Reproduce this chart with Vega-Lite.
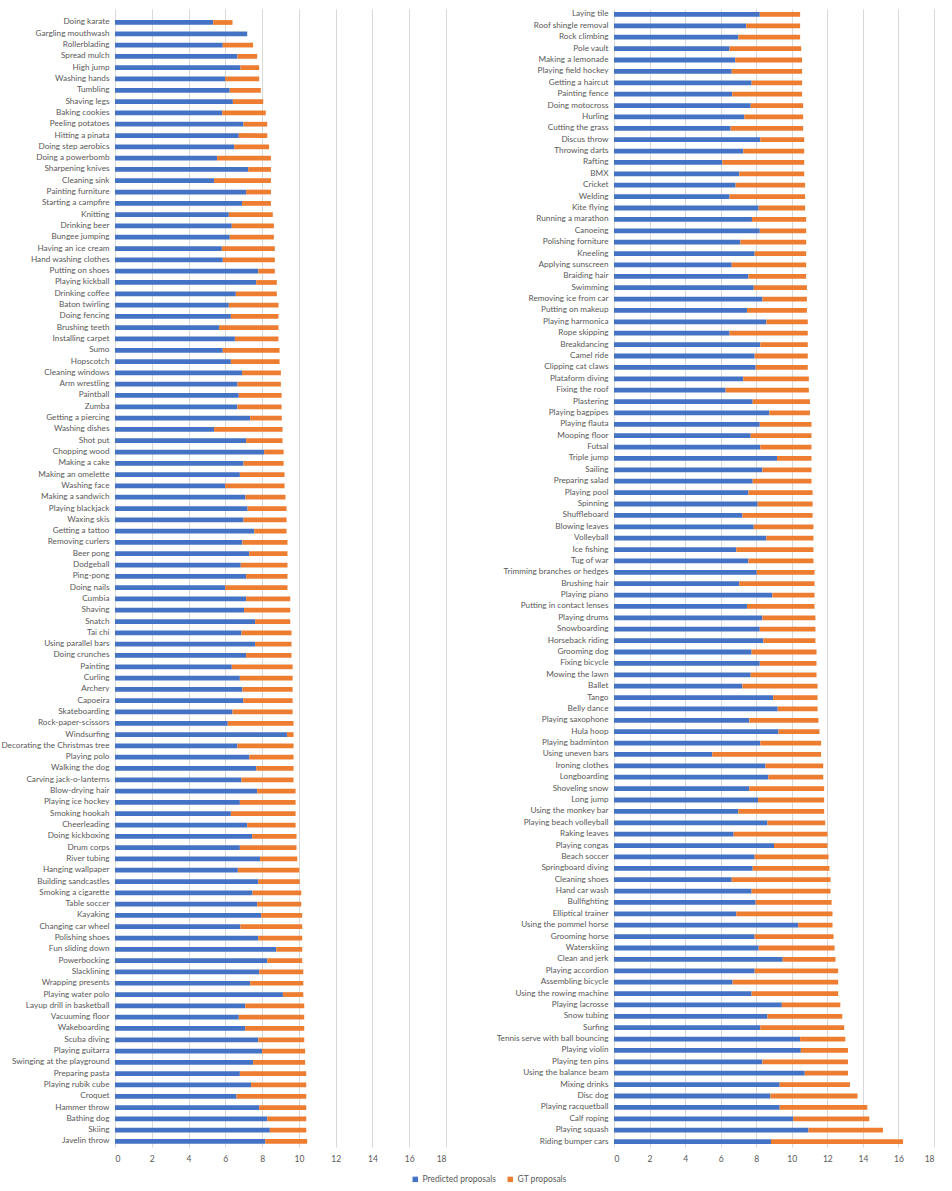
{
  "$schema": "https://vega.github.io/schema/vega-lite/v6.json",
  "padding": {"left": 0, "top": 8, "right": 5, "bottom": 5},
  "spacing": 40,
  "config": {
    "view": {"stroke": null},
    "font": "Lato",
    "axis": {"labelFont": "Lato", "labelFontSize": 8.2, "labelColor": "#595959", "gridColor": "#D9D9D9", "gridWidth": 1},
    "legend": {"labelFont": "Lato", "labelFontSize": 8.5, "labelColor": "#595959"}
  },
  "datasets": {
    "left": [
      {"activity": "Doing karate", "Predicted proposals": 5.34, "GT proposals": 1.05},
      {"activity": "Gargling mouthwash", "Predicted proposals": 7.19, "GT proposals": 0},
      {"activity": "Rollerblading", "Predicted proposals": 5.86, "GT proposals": 1.65},
      {"activity": "Spread mulch", "Predicted proposals": 6.66, "GT proposals": 1.07},
      {"activity": "High jump", "Predicted proposals": 6.82, "GT proposals": 1.02},
      {"activity": "Washing hands", "Predicted proposals": 5.99, "GT proposals": 1.85},
      {"activity": "Tumbling", "Predicted proposals": 6.24, "GT proposals": 1.69},
      {"activity": "Shaving legs", "Predicted proposals": 6.41, "GT proposals": 1.65},
      {"activity": "Baking cookies", "Predicted proposals": 5.83, "GT proposals": 2.37},
      {"activity": "Peeling potatoes", "Predicted proposals": 6.99, "GT proposals": 1.29},
      {"activity": "Hitting a pinata", "Predicted proposals": 6.73, "GT proposals": 1.55},
      {"activity": "Doing step aerobics", "Predicted proposals": 6.48, "GT proposals": 1.90},
      {"activity": "Doing a powerbomb", "Predicted proposals": 5.55, "GT proposals": 2.93},
      {"activity": "Sharpening knives", "Predicted proposals": 7.24, "GT proposals": 1.24},
      {"activity": "Cleaning sink", "Predicted proposals": 5.39, "GT proposals": 3.09},
      {"activity": "Painting furniture", "Predicted proposals": 7.13, "GT proposals": 1.35},
      {"activity": "Starting a campfire", "Predicted proposals": 6.91, "GT proposals": 1.57},
      {"activity": "Knitting", "Predicted proposals": 6.19, "GT proposals": 2.39},
      {"activity": "Drinking beer", "Predicted proposals": 6.35, "GT proposals": 2.29},
      {"activity": "Bungee jumping", "Predicted proposals": 6.24, "GT proposals": 2.40},
      {"activity": "Having an ice cream", "Predicted proposals": 5.81, "GT proposals": 2.88},
      {"activity": "Hand washing clothes", "Predicted proposals": 5.86, "GT proposals": 2.83},
      {"activity": "Putting on shoes", "Predicted proposals": 7.79, "GT proposals": 0.90},
      {"activity": "Playing kickball", "Predicted proposals": 7.68, "GT proposals": 1.12},
      {"activity": "Drinking coffee", "Predicted proposals": 6.57, "GT proposals": 2.23},
      {"activity": "Baton twirling", "Predicted proposals": 6.19, "GT proposals": 2.70},
      {"activity": "Doing fencing", "Predicted proposals": 6.30, "GT proposals": 2.59},
      {"activity": "Brushing teeth", "Predicted proposals": 5.66, "GT proposals": 3.23},
      {"activity": "Installing carpet", "Predicted proposals": 6.52, "GT proposals": 2.37},
      {"activity": "Sumo", "Predicted proposals": 5.86, "GT proposals": 3.09},
      {"activity": "Hopscotch", "Predicted proposals": 6.30, "GT proposals": 2.65},
      {"activity": "Cleaning windows", "Predicted proposals": 6.91, "GT proposals": 2.11},
      {"activity": "Arm wrestling", "Predicted proposals": 6.66, "GT proposals": 2.36},
      {"activity": "Paintball", "Predicted proposals": 6.73, "GT proposals": 2.33},
      {"activity": "Zumba", "Predicted proposals": 6.66, "GT proposals": 2.40},
      {"activity": "Getting a piercing", "Predicted proposals": 7.35, "GT proposals": 1.72},
      {"activity": "Washing dishes", "Predicted proposals": 5.39, "GT proposals": 3.72},
      {"activity": "Shot put", "Predicted proposals": 7.13, "GT proposals": 1.98},
      {"activity": "Chopping wood", "Predicted proposals": 8.11, "GT proposals": 1.06},
      {"activity": "Making a cake", "Predicted proposals": 6.99, "GT proposals": 2.18},
      {"activity": "Making an omelette", "Predicted proposals": 6.79, "GT proposals": 2.43},
      {"activity": "Washing face", "Predicted proposals": 5.99, "GT proposals": 3.23},
      {"activity": "Making a sandwich", "Predicted proposals": 7.10, "GT proposals": 2.17},
      {"activity": "Playing blackjack", "Predicted proposals": 7.21, "GT proposals": 2.12},
      {"activity": "Waxing skis", "Predicted proposals": 6.99, "GT proposals": 2.34},
      {"activity": "Getting a tattoo", "Predicted proposals": 7.57, "GT proposals": 1.76},
      {"activity": "Removing curlers", "Predicted proposals": 6.93, "GT proposals": 2.45},
      {"activity": "Beer pong", "Predicted proposals": 7.30, "GT proposals": 2.08},
      {"activity": "Dodgeball", "Predicted proposals": 6.84, "GT proposals": 2.54},
      {"activity": "Ping-pong", "Predicted proposals": 7.13, "GT proposals": 2.25},
      {"activity": "Doing nails", "Predicted proposals": 5.99, "GT proposals": 3.39},
      {"activity": "Cumbia", "Predicted proposals": 7.13, "GT proposals": 2.40},
      {"activity": "Shaving", "Predicted proposals": 7.02, "GT proposals": 2.51},
      {"activity": "Snatch", "Predicted proposals": 7.62, "GT proposals": 1.91},
      {"activity": "Tai chi", "Predicted proposals": 6.88, "GT proposals": 2.72},
      {"activity": "Using parallel bars", "Predicted proposals": 7.62, "GT proposals": 1.98},
      {"activity": "Doing crunches", "Predicted proposals": 7.13, "GT proposals": 2.47},
      {"activity": "Painting", "Predicted proposals": 6.35, "GT proposals": 3.31},
      {"activity": "Curling", "Predicted proposals": 6.79, "GT proposals": 2.87},
      {"activity": "Archery", "Predicted proposals": 6.93, "GT proposals": 2.73},
      {"activity": "Capoeira", "Predicted proposals": 6.97, "GT proposals": 2.69},
      {"activity": "Skateboarding", "Predicted proposals": 6.39, "GT proposals": 3.27},
      {"activity": "Rock-paper-scissors", "Predicted proposals": 6.13, "GT proposals": 3.58},
      {"activity": "Windsurfing", "Predicted proposals": 9.35, "GT proposals": 0.36},
      {"activity": "Decorating the Christmas tree", "Predicted proposals": 6.66, "GT proposals": 3.05},
      {"activity": "Playing polo", "Predicted proposals": 7.30, "GT proposals": 2.41},
      {"activity": "Walking the dog", "Predicted proposals": 7.68, "GT proposals": 2.03},
      {"activity": "Carving jack-o-lanterns", "Predicted proposals": 6.88, "GT proposals": 2.83},
      {"activity": "Blow-drying hair", "Predicted proposals": 7.73, "GT proposals": 2.09},
      {"activity": "Playing ice hockey", "Predicted proposals": 6.79, "GT proposals": 3.03},
      {"activity": "Smoking hookah", "Predicted proposals": 6.30, "GT proposals": 3.52},
      {"activity": "Cheerleading", "Predicted proposals": 7.19, "GT proposals": 2.63},
      {"activity": "Doing kickboxing", "Predicted proposals": 7.46, "GT proposals": 2.41},
      {"activity": "Drum corps", "Predicted proposals": 6.79, "GT proposals": 3.08},
      {"activity": "River tubing", "Predicted proposals": 7.89, "GT proposals": 2.02},
      {"activity": "Hanging wallpaper", "Predicted proposals": 6.68, "GT proposals": 3.34},
      {"activity": "Building sandcastles", "Predicted proposals": 7.79, "GT proposals": 2.26},
      {"activity": "Smoking a cigarette", "Predicted proposals": 7.48, "GT proposals": 2.65},
      {"activity": "Table soccer", "Predicted proposals": 7.73, "GT proposals": 2.40},
      {"activity": "Kayaking", "Predicted proposals": 7.95, "GT proposals": 2.23},
      {"activity": "Changing car wheel", "Predicted proposals": 6.82, "GT proposals": 3.36},
      {"activity": "Polishing shoes", "Predicted proposals": 7.79, "GT proposals": 2.39},
      {"activity": "Fun sliding down", "Predicted proposals": 8.77, "GT proposals": 1.41},
      {"activity": "Powerbocking", "Predicted proposals": 8.28, "GT proposals": 1.90},
      {"activity": "Slacklining", "Predicted proposals": 7.84, "GT proposals": 2.40},
      {"activity": "Wrapping presents", "Predicted proposals": 7.35, "GT proposals": 2.89},
      {"activity": "Playing water polo", "Predicted proposals": 9.13, "GT proposals": 1.11},
      {"activity": "Layup drill in basketball", "Predicted proposals": 7.08, "GT proposals": 3.21},
      {"activity": "Vacuuming floor", "Predicted proposals": 6.73, "GT proposals": 3.56},
      {"activity": "Wakeboarding", "Predicted proposals": 7.08, "GT proposals": 3.21},
      {"activity": "Scuba diving", "Predicted proposals": 7.79, "GT proposals": 2.50},
      {"activity": "Playing guitarra", "Predicted proposals": 8.00, "GT proposals": 2.34},
      {"activity": "Swinging at the playground", "Predicted proposals": 7.51, "GT proposals": 2.83},
      {"activity": "Preparing pasta", "Predicted proposals": 6.79, "GT proposals": 3.61},
      {"activity": "Playing rubik cube", "Predicted proposals": 7.40, "GT proposals": 3.00},
      {"activity": "Croquet", "Predicted proposals": 6.61, "GT proposals": 3.79},
      {"activity": "Hammer throw", "Predicted proposals": 7.84, "GT proposals": 2.56},
      {"activity": "Bathing dog", "Predicted proposals": 8.28, "GT proposals": 2.12},
      {"activity": "Skiing", "Predicted proposals": 8.42, "GT proposals": 1.98},
      {"activity": "Javelin throw", "Predicted proposals": 8.17, "GT proposals": 2.28}
    ],
    "right": [
      {"activity": "Laying tile", "Predicted proposals": 8.20, "GT proposals": 2.27},
      {"activity": "Roof shingle removal", "Predicted proposals": 7.44, "GT proposals": 3.03},
      {"activity": "Rock climbing", "Predicted proposals": 6.99, "GT proposals": 3.48},
      {"activity": "Pole vault", "Predicted proposals": 6.50, "GT proposals": 4.03},
      {"activity": "Making a lemonade", "Predicted proposals": 6.82, "GT proposals": 3.76},
      {"activity": "Playing field hockey", "Predicted proposals": 6.62, "GT proposals": 3.96},
      {"activity": "Getting a haircut", "Predicted proposals": 7.74, "GT proposals": 2.84},
      {"activity": "Painting fence", "Predicted proposals": 6.65, "GT proposals": 3.93},
      {"activity": "Doing motocross", "Predicted proposals": 7.69, "GT proposals": 2.95},
      {"activity": "Hurling", "Predicted proposals": 7.33, "GT proposals": 3.31},
      {"activity": "Cutting the grass", "Predicted proposals": 6.56, "GT proposals": 4.08},
      {"activity": "Discus throw", "Predicted proposals": 8.23, "GT proposals": 2.47},
      {"activity": "Throwing darts", "Predicted proposals": 7.27, "GT proposals": 3.43},
      {"activity": "Rafting", "Predicted proposals": 6.09, "GT proposals": 4.61},
      {"activity": "BMX", "Predicted proposals": 7.05, "GT proposals": 3.65},
      {"activity": "Cricket", "Predicted proposals": 6.84, "GT proposals": 3.91},
      {"activity": "Welding", "Predicted proposals": 6.50, "GT proposals": 4.25},
      {"activity": "Kite flying", "Predicted proposals": 8.14, "GT proposals": 2.61},
      {"activity": "Running a marathon", "Predicted proposals": 7.76, "GT proposals": 3.05},
      {"activity": "Canoeing", "Predicted proposals": 8.20, "GT proposals": 2.61},
      {"activity": "Polishing forniture", "Predicted proposals": 7.11, "GT proposals": 3.70},
      {"activity": "Kneeling", "Predicted proposals": 7.91, "GT proposals": 2.90},
      {"activity": "Applying sunscreen", "Predicted proposals": 6.62, "GT proposals": 4.19},
      {"activity": "Braiding hair", "Predicted proposals": 7.56, "GT proposals": 3.25},
      {"activity": "Swimming", "Predicted proposals": 7.86, "GT proposals": 2.99},
      {"activity": "Removing ice from car", "Predicted proposals": 8.35, "GT proposals": 2.50},
      {"activity": "Putting on makeup", "Predicted proposals": 7.48, "GT proposals": 3.37},
      {"activity": "Playing harmonica", "Predicted proposals": 8.57, "GT proposals": 2.33},
      {"activity": "Rope skipping", "Predicted proposals": 6.50, "GT proposals": 4.40},
      {"activity": "Breakdancing", "Predicted proposals": 8.23, "GT proposals": 2.67},
      {"activity": "Camel ride", "Predicted proposals": 7.91, "GT proposals": 2.99},
      {"activity": "Clipping cat claws", "Predicted proposals": 7.97, "GT proposals": 2.93},
      {"activity": "Plataform diving", "Predicted proposals": 7.27, "GT proposals": 3.69},
      {"activity": "Fixing the roof", "Predicted proposals": 6.28, "GT proposals": 4.68},
      {"activity": "Plastering", "Predicted proposals": 7.80, "GT proposals": 3.22},
      {"activity": "Playing bagpipes", "Predicted proposals": 8.74, "GT proposals": 2.28},
      {"activity": "Playing flauta", "Predicted proposals": 8.20, "GT proposals": 2.91},
      {"activity": "Mooping floor", "Predicted proposals": 7.69, "GT proposals": 3.42},
      {"activity": "Futsal", "Predicted proposals": 8.23, "GT proposals": 2.88},
      {"activity": "Triple jump", "Predicted proposals": 9.17, "GT proposals": 1.94},
      {"activity": "Sailing", "Predicted proposals": 8.35, "GT proposals": 2.76},
      {"activity": "Preparing salad", "Predicted proposals": 7.80, "GT proposals": 3.31},
      {"activity": "Playing pool", "Predicted proposals": 7.56, "GT proposals": 3.61},
      {"activity": "Spinning", "Predicted proposals": 8.08, "GT proposals": 3.09},
      {"activity": "Shuffleboard", "Predicted proposals": 7.22, "GT proposals": 3.95},
      {"activity": "Blowing leaves", "Predicted proposals": 7.86, "GT proposals": 3.36},
      {"activity": "Volleyball", "Predicted proposals": 8.57, "GT proposals": 2.65},
      {"activity": "Ice fishing", "Predicted proposals": 6.88, "GT proposals": 4.34},
      {"activity": "Tug of war", "Predicted proposals": 7.56, "GT proposals": 3.66},
      {"activity": "Trimming branches or hedges", "Predicted proposals": 8.03, "GT proposals": 3.25},
      {"activity": "Brushing hair", "Predicted proposals": 7.05, "GT proposals": 4.23},
      {"activity": "Playing piano", "Predicted proposals": 8.91, "GT proposals": 2.37},
      {"activity": "Putting in contact lenses", "Predicted proposals": 7.48, "GT proposals": 3.80},
      {"activity": "Playing drums", "Predicted proposals": 8.35, "GT proposals": 2.98},
      {"activity": "Snowboarding", "Predicted proposals": 8.20, "GT proposals": 3.13},
      {"activity": "Horseback riding", "Predicted proposals": 8.40, "GT proposals": 2.93},
      {"activity": "Grooming dog", "Predicted proposals": 7.74, "GT proposals": 3.65},
      {"activity": "Fixing bicycle", "Predicted proposals": 8.20, "GT proposals": 3.19},
      {"activity": "Mowing the lawn", "Predicted proposals": 7.69, "GT proposals": 3.70},
      {"activity": "Ballet", "Predicted proposals": 7.22, "GT proposals": 4.23},
      {"activity": "Tango", "Predicted proposals": 8.95, "GT proposals": 2.50},
      {"activity": "Belly dance", "Predicted proposals": 9.21, "GT proposals": 2.24},
      {"activity": "Playing saxophone", "Predicted proposals": 7.61, "GT proposals": 3.89},
      {"activity": "Hula hoop", "Predicted proposals": 9.25, "GT proposals": 2.31},
      {"activity": "Playing badminton", "Predicted proposals": 8.23, "GT proposals": 3.42},
      {"activity": "Using uneven bars", "Predicted proposals": 5.53, "GT proposals": 6.12},
      {"activity": "Ironing clothes", "Predicted proposals": 8.52, "GT proposals": 3.25},
      {"activity": "Longboarding", "Predicted proposals": 8.68, "GT proposals": 3.09},
      {"activity": "Shoveling snow", "Predicted proposals": 7.61, "GT proposals": 4.21},
      {"activity": "Long jump", "Predicted proposals": 8.10, "GT proposals": 3.72},
      {"activity": "Using the monkey bar", "Predicted proposals": 6.99, "GT proposals": 4.83},
      {"activity": "Playing beach volleyball", "Predicted proposals": 8.63, "GT proposals": 3.25},
      {"activity": "Raking leaves", "Predicted proposals": 6.73, "GT proposals": 5.28},
      {"activity": "Playing congas", "Predicted proposals": 9.00, "GT proposals": 3.01},
      {"activity": "Beach soccer", "Predicted proposals": 7.91, "GT proposals": 4.16},
      {"activity": "Springboard diving", "Predicted proposals": 7.80, "GT proposals": 4.32},
      {"activity": "Cleaning shoes", "Predicted proposals": 6.62, "GT proposals": 5.56},
      {"activity": "Hand car wash", "Predicted proposals": 7.74, "GT proposals": 4.44},
      {"activity": "Bullfighting", "Predicted proposals": 7.97, "GT proposals": 4.27},
      {"activity": "Elliptical trainer", "Predicted proposals": 6.88, "GT proposals": 5.41},
      {"activity": "Using the pommel horse", "Predicted proposals": 10.36, "GT proposals": 1.93},
      {"activity": "Grooming horse", "Predicted proposals": 7.91, "GT proposals": 4.44},
      {"activity": "Waterskiing", "Predicted proposals": 8.14, "GT proposals": 4.27},
      {"activity": "Clean and jerk", "Predicted proposals": 9.49, "GT proposals": 2.97},
      {"activity": "Playing accordion", "Predicted proposals": 7.91, "GT proposals": 4.70},
      {"activity": "Assembling bicycle", "Predicted proposals": 6.67, "GT proposals": 5.94},
      {"activity": "Using the rowing machine", "Predicted proposals": 7.74, "GT proposals": 4.87},
      {"activity": "Playing lacrosse", "Predicted proposals": 9.44, "GT proposals": 3.29},
      {"activity": "Snow tubing", "Predicted proposals": 8.63, "GT proposals": 4.21},
      {"activity": "Surfing", "Predicted proposals": 8.23, "GT proposals": 4.72},
      {"activity": "Tennis serve with ball bouncing", "Predicted proposals": 10.47, "GT proposals": 2.54},
      {"activity": "Playing violin", "Predicted proposals": 10.51, "GT proposals": 2.65},
      {"activity": "Playing ten pins", "Predicted proposals": 8.35, "GT proposals": 4.81},
      {"activity": "Using the balance beam", "Predicted proposals": 10.73, "GT proposals": 2.43},
      {"activity": "Mixing drinks", "Predicted proposals": 9.32, "GT proposals": 3.95},
      {"activity": "Disc dog", "Predicted proposals": 8.80, "GT proposals": 4.90},
      {"activity": "Playing racquetball", "Predicted proposals": 9.32, "GT proposals": 4.93},
      {"activity": "Calf roping", "Predicted proposals": 10.08, "GT proposals": 4.28},
      {"activity": "Playing squash", "Predicted proposals": 10.94, "GT proposals": 4.19},
      {"activity": "Riding bumper cars", "Predicted proposals": 8.83, "GT proposals": 7.43}
    ]
  },
  "hconcat": [
    {
      "width": 331,
      "height": 1138,
      "data": {"name": "left"},
      "transform": [{"fold": ["Predicted proposals", "GT proposals"], "as": ["series", "value"]}],
      "mark": {"type": "bar"},
      "encoding": {
        "y": {
          "field": "activity", "type": "nominal", "sort": null, "title": null,
          "scale": {"paddingInner": 0.58, "paddingOuter": 0.63, "align": 0.78},
          "axis": {"minExtent": 112, "maxExtent": 112, "labelPadding": 6, "ticks": false, "domain": false, "grid": false, "labelLimit": 200}
        },
        "x": {
          "field": "value", "type": "quantitative", "stack": "zero", "title": null,
          "scale": {"domain": [0, 18], "nice": false},
          "axis": {"values": [0, 2, 4, 6, 8, 10, 12, 14, 16, 18], "grid": true, "ticks": false, "domain": false, "labelPadding": 7, "labelFontSize": 8.5}
        },
        "color": {
          "field": "series", "type": "nominal",
          "scale": {"domain": ["Predicted proposals", "GT proposals"], "range": ["#4472C4", "#ED7D31"]},
          "legend": {"orient": "none", "legendX": 296, "legendY": 1166, "direction": "horizontal", "title": null, "symbolType": "square", "symbolSize": 30, "symbolStrokeWidth": 0, "columnPadding": 10, "labelOffset": 3}
        },
        "order": {"field": "series", "sort": "descending"}
      }
    },
    {
      "width": 320,
      "height": 1138,
      "data": {"name": "right"},
      "transform": [{"fold": ["Predicted proposals", "GT proposals"], "as": ["series", "value"]}],
      "mark": {"type": "bar"},
      "encoding": {
        "y": {
          "field": "activity", "type": "nominal", "sort": null, "title": null,
          "scale": {"paddingInner": 0.58, "paddingOuter": 0.27, "align": 0.5},
          "axis": {"minExtent": 128, "maxExtent": 128, "labelPadding": 6, "ticks": false, "domain": false, "grid": false, "labelLimit": 200}
        },
        "x": {
          "field": "value", "type": "quantitative", "stack": "zero", "title": null,
          "scale": {"domain": [0, 18], "nice": false},
          "axis": {"values": [0, 2, 4, 6, 8, 10, 12, 14, 16, 18], "grid": true, "ticks": false, "domain": false, "labelPadding": 7, "labelFontSize": 8.5}
        },
        "color": {
          "field": "series", "type": "nominal",
          "scale": {"domain": ["Predicted proposals", "GT proposals"], "range": ["#4472C4", "#ED7D31"]},
          "legend": {"orient": "none", "legendX": 296, "legendY": 1166, "direction": "horizontal", "title": null, "symbolType": "square", "symbolSize": 30, "symbolStrokeWidth": 0, "columnPadding": 10, "labelOffset": 3}
        },
        "order": {"field": "series", "sort": "descending"}
      }
    }
  ]
}
